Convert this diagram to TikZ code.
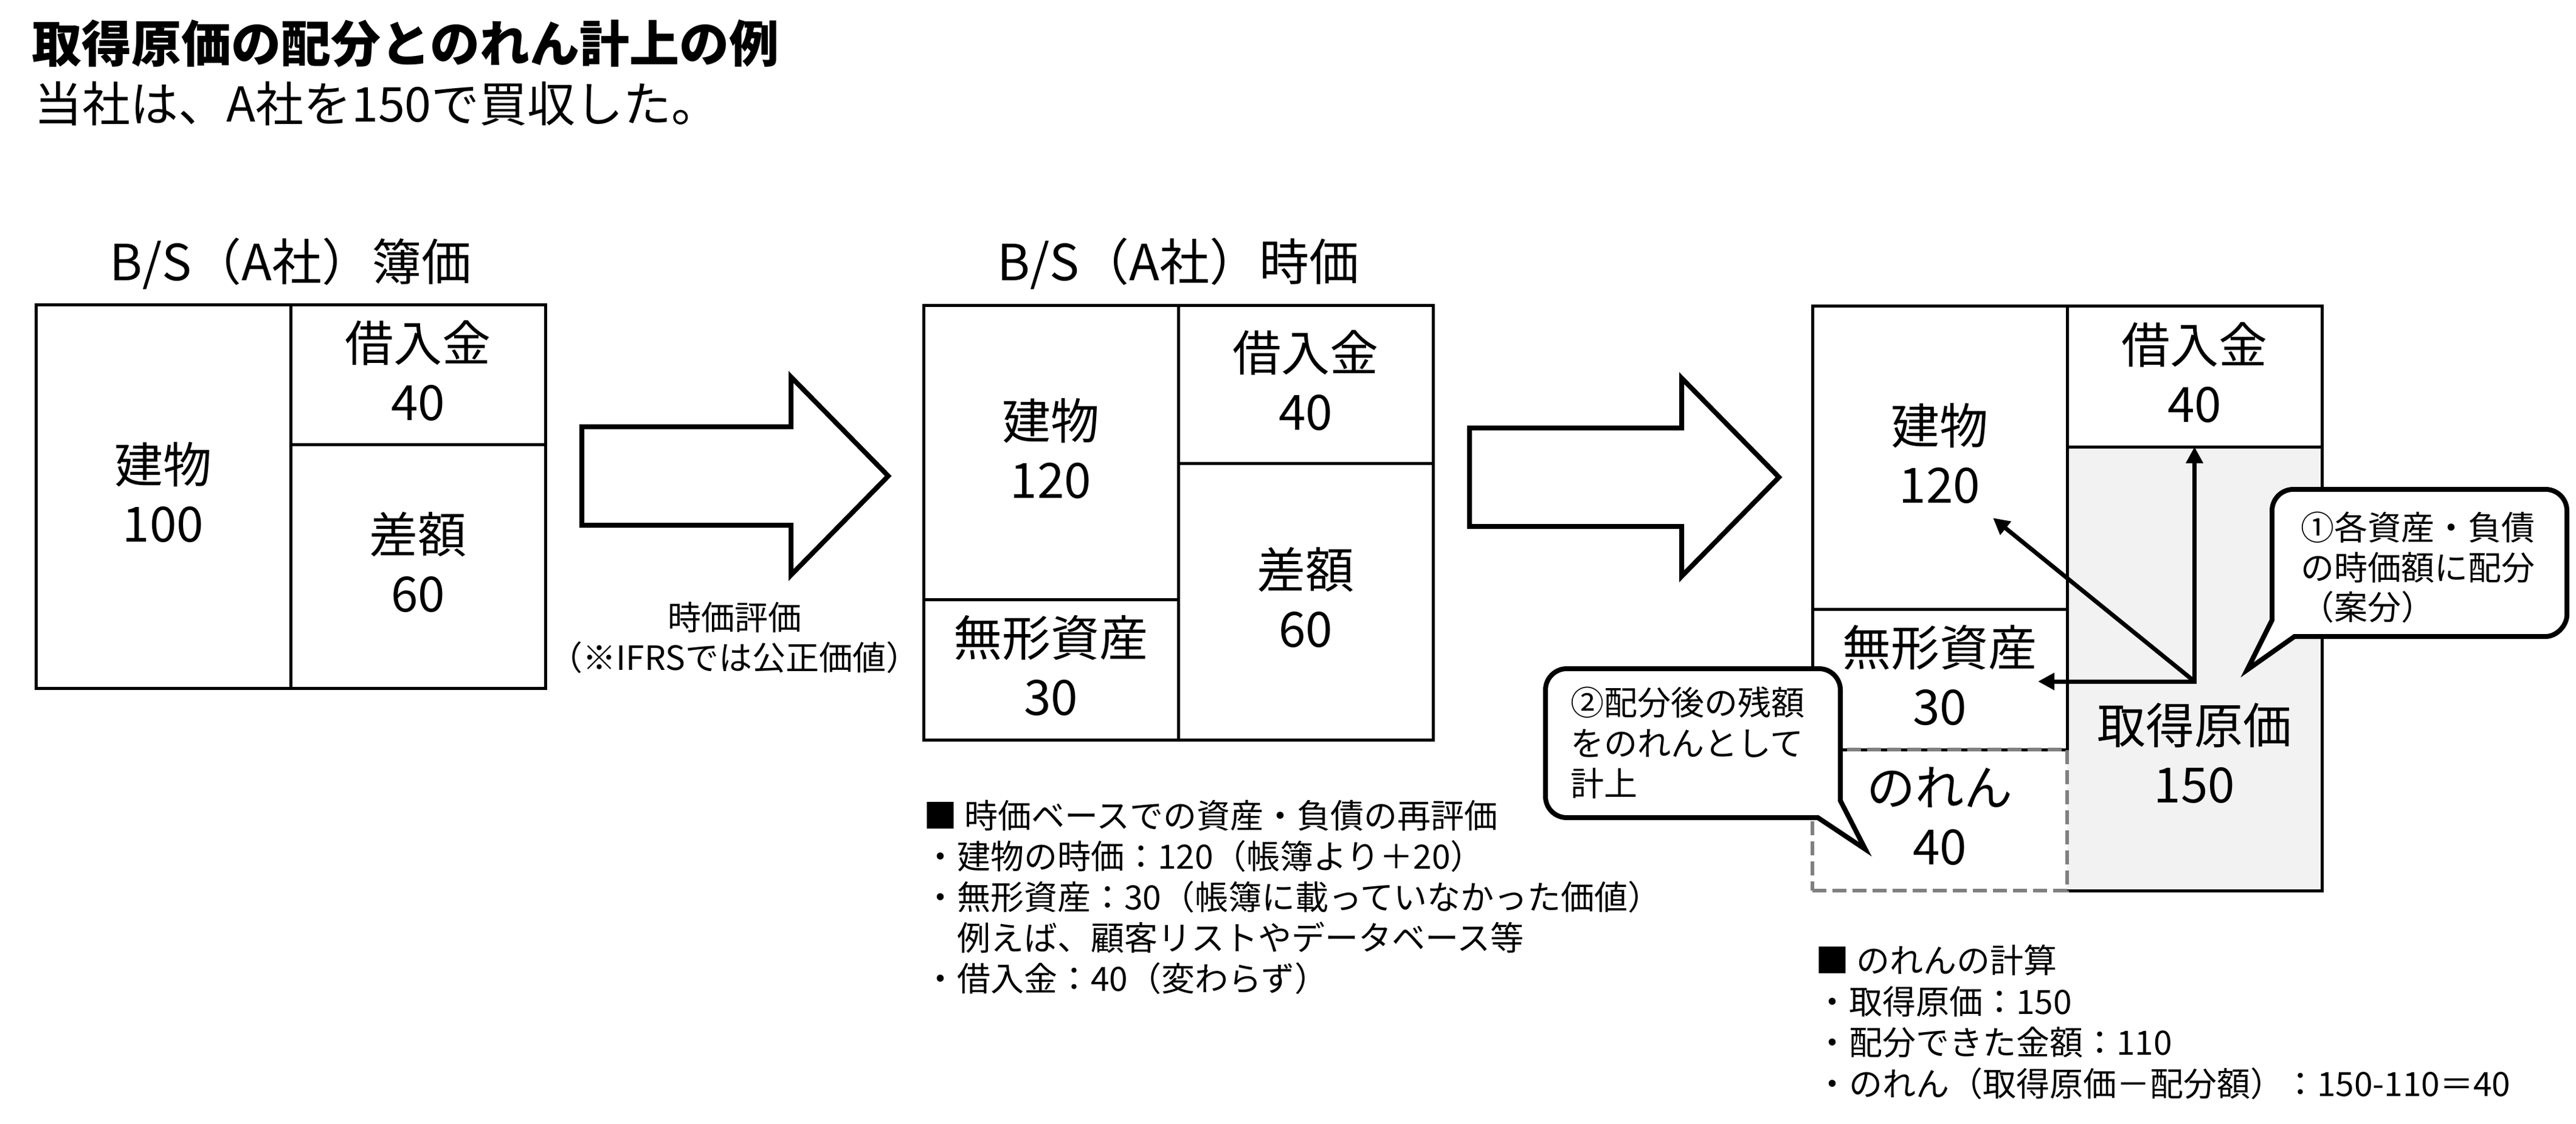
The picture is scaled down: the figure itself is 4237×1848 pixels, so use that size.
\documentclass[tikz,border=0pt]{standalone}
\usepackage{fontspec}
\setmainfont{Noto Sans CJK JP}
\usetikzlibrary{arrows.meta}
\definecolor{genkagray}{HTML}{F2F2F2}
\definecolor{dashgray}{HTML}{808080}
\begin{document}
\begin{tikzpicture}[x=1pt,y=-1pt,
  cell/.style={draw, line width=5pt, minimum width=419pt, inner sep=0pt, outer sep=0pt, align=center, text depth=14pt, font=\fontsize{80}{97}\selectfont},
  goodwill/.style={cell, draw=dashgray, dash pattern=on 23pt off 10pt, line width=5.5pt},
  bigarrow/.style={draw, line width=8pt, line join=miter, fill=white},
  balloon/.style={draw, line width=8pt, fill=white, line join=miter},
  alloc/.style={line width=7pt, line join=miter},
  txt/.style={inner sep=0pt, anchor=base west, font=\fontsize{55}{66}\selectfont},
  ctxt/.style={inner sep=0pt, anchor=base, font=\fontsize{55}{66}\selectfont},
  head/.style={inner sep=0pt, anchor=base, font=\fontsize{82}{98}\selectfont},
]
\useasboundingbox (0,0) rectangle (4237,1848);
\fill[white] (0,0) rectangle (4237,1848);

% titles
\node[inner sep=0pt, anchor=base west, font=\fontsize{82}{98}\selectfont\bfseries] (title) at (52,102) {取得原価の配分とのれん計上の例};
\node[inner sep=0pt, anchor=base west, font=\fontsize{79}{95}\selectfont] (subtitle) at (56,200) {当社は、A社を150で買収した。};

\node[head] (bs1) at (478,461) {B/S（A社）簿価};
\node[head] (bs2) at (1938,461) {B/S（A社）時価};

% B/S 1
\node[cell, minimum height=631pt] (tat1) at (268.5,816.5) {建物\\100};
\node[cell, minimum height=230pt] (kar1) at (687.5,616) {借入金\\40};
\node[cell, minimum height=401pt] (sag1) at (687.5,931.5) {差額\\60};

% B/S 2
\node[cell, minimum height=484pt] (tat2) at (1728.5,744) {建物\\120};
\node[cell, minimum height=231pt] (muk2) at (1728.5,1101.5) {無形資産\\30};
\node[cell, minimum height=260pt] (kar2) at (2147.5,632) {借入金\\40};
\node[cell, minimum height=455pt] (sag2) at (2147.5,989.5) {差額\\60};

% B/S 3
\node[fill=genkagray, minimum width=419pt, minimum height=730pt, inner sep=0pt, outer sep=0pt] (gen3) at (3609.5,1100) {};
\node[cell, minimum height=499pt] (tat3) at (3190.5,752.5) {建物\\120};
\node[cell, minimum height=231pt] (muk3) at (3190.5,1117.5) {無形資産\\30};
\node[cell, minimum height=232pt] (kar3) at (3609.5,619) {借入金\\40};
\draw[line width=5pt] (gen3.south west) -- (gen3.south east) -- (gen3.north east);
\node[goodwill, minimum height=232pt] (nor3) at (3190.5,1349) {のれん\\40};
\node[inner sep=0pt, align=center, text depth=14pt, font=\fontsize{80}{97}\selectfont] (genlbl) at (3609.5,1245) {取得原価\\150};

% big arrows
\draw[bigarrow] (957,702) -- (1301,702) -- (1301,620) -- (1461,783) -- (1301,946) -- (1301,864) -- (957,864) -- cycle;
\draw[bigarrow] (2417,704) -- (2766,704) -- (2766,622) -- (2926,785) -- (2766,948) -- (2766,866) -- (2417,866) -- cycle;
\node[ctxt] (lbl1) at (1208,1036) {時価評価};
\node[ctxt] (lbl2) at (1208,1102) {（※IFRSでは公正価値）};

% allocation arrows
\coordinate (P) at (3609.5,1121);
\coordinate (muktip) at (3352,1121);
\coordinate (tattip) at (3278,852);
\draw[alloc, {Triangle[length=27pt,width=27pt]}-{Triangle[length=27pt,width=27pt]}] (muktip) -- (P) -- (P |- kar3.south);
\draw[alloc, -{Triangle[length=27pt,width=27pt]}] (P) -- (tattip);

% notes
\node[txt] (r1) at (1519,1362) {■ 時価ベースでの資産・負債の再評価};
\node[txt] (r2) at (1519,1429) {・建物の時価：120（帳簿より＋20）};
\node[txt] (r3) at (1519,1496) {・無形資産：30（帳簿に載っていなかった価値）};
\node[txt] (r4) at (1519,1563) {　例えば、顧客リストやデータベース等};
\node[txt] (r5) at (1519,1630) {・借入金：40（変わらず）};

\node[txt] (g1) at (2986,1600) {■ のれんの計算};
\node[txt] (g2) at (2986,1668) {・取得原価：150};
\node[txt] (g3) at (2986,1735) {・配分できた金額：110};
\node[txt] (g4) at (2986,1803) {・のれん（取得原価－配分額）：150-110＝40};

% callouts
\draw[balloon] (3774,1047) -- (4187,1047) .. controls (4206.3,1047) and (4222,1027.7) .. (4222,1012) -- (4222,840) .. controls (4222,820.7) and (4206.3,805) .. (4187,805) -- (3772,805) .. controls (3752.7,805) and (3737,820.7) .. (3737,840) -- (3737,1020) -- (3696,1102) -- cycle;
\node[txt] (c1a) at (3784,888) {①各資産・負債};
\node[txt] (c1b) at (3784,954) {の時価額に配分};
\node[txt] (c1c) at (3784,1019) {（案分）};

\draw[balloon] (3027,1317) -- (3068,1397) -- (2990,1345) -- (2577,1345) .. controls (2557.7,1345) and (2542,1329.7) .. (2542,1310) -- (2542,1135) .. controls (2542,1115.7) and (2557.7,1100) .. (2577,1100) -- (2992,1100) .. controls (3011.3,1100) and (3027,1115.7) .. (3027,1135) -- cycle;
\node[txt] (c2a) at (2583,1176) {②配分後の残額};
\node[txt] (c2b) at (2583,1243) {をのれんとして};
\node[txt] (c2c) at (2583,1309) {計上};
\end{tikzpicture}
\end{document}
